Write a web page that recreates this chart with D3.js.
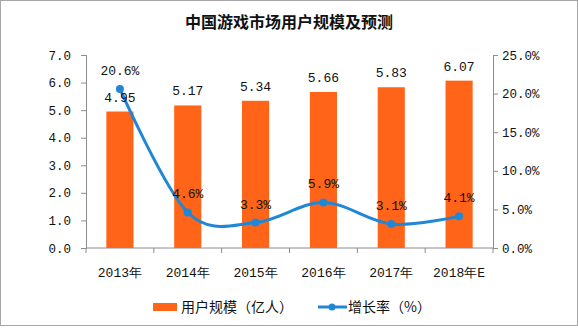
<!DOCTYPE html>
<html><head><meta charset="utf-8">
<script src="https://cdn.jsdelivr.net/npm/d3@7"></script>
<style>
html,body{margin:0;padding:0;background:#fff;}
svg{display:block;}
</style></head>
<body>
<svg id="c" width="578" height="328"></svg>
<script>
const categories = ["2013年","2014年","2015年","2016年","2017年","2018年E"];
const users = [4.95, 5.17, 5.34, 5.66, 5.83, 6.07];
const growth = [20.6, 4.6, 3.3, 5.9, 3.1, 4.1];
const leftTicks = [0,1,2,3,4,5,6,7];
const rightTicks = [0,5,10,15,20,25];
const title = "中国游戏市场用户规模及预测";
const legendLabels = ["用户规模（亿人）","增长率（%）"];

const svg = d3.select("#c");
const W = 578, H = 328;
const m = {left: 86, right: 493, top: 55, bottom: 248};
const numFont = "'Liberation Mono', 'DejaVu Sans Mono', monospace";
const cjkFont = "'Noto Sans CJK SC', sans-serif";
const barColor = "#ff6418";
const lineColor = "#1f87d6";
const axisColor = "#8c8c8c";

svg.append("rect").attr("x",0.5).attr("y",0.5).attr("width",W-1).attr("height",H-3)
  .attr("fill","#fff").attr("stroke","#a6a6a6");

svg.append("text").attr("x",W/2).attr("y",28).attr("text-anchor","middle")
  .attr("font-family",cjkFont).attr("font-weight","bold").attr("font-size",16)
  .attr("fill","#111").text(title);

const xb = d3.scaleBand().domain(categories).range([m.left, m.right]);
const yL = d3.scaleLinear().domain([0,7]).range([m.bottom, m.top]);
const yR = d3.scaleLinear().domain([0,25]).range([m.bottom, m.top]);

// bars
svg.append("g").selectAll("rect").data(users).join("rect")
  .attr("x",(d,i)=>xb(categories[i]) + xb.bandwidth()*0.3)
  .attr("width",xb.bandwidth()*0.4)
  .attr("y",d=>yL(d)).attr("height",d=>m.bottom - yL(d))
  .attr("fill",barColor);

// axes
function styleAxis(g){
  g.selectAll("path,line").attr("stroke",axisColor);
  g.selectAll("text").attr("font-family",numFont).attr("font-size",12.5).attr("fill","#111");
}
svg.append("g").attr("transform",`translate(${m.left},0)`)
  .call(d3.axisLeft(yL).tickValues(leftTicks).tickFormat(d3.format(".1f")).tickSizeOuter(0).tickSize(5).tickPadding(10))
  .call(styleAxis);
svg.append("g").attr("transform",`translate(${m.right},0)`)
  .call(d3.axisRight(yR).tickValues(rightTicks).tickFormat(d=>d3.format(".1f")(d)+"%").tickSizeOuter(0).tickSize(5).tickPadding(4))
  .call(styleAxis);
const xAxis = svg.append("g").attr("transform",`translate(0,${m.bottom})`);
xAxis.append("line").attr("x1",m.left).attr("x2",m.right).attr("stroke",axisColor);
xAxis.selectAll("line.t").data(d3.range(categories.length+1)).join("line").attr("class","t")
  .attr("x1",i=>m.left + i*xb.step()).attr("x2",i=>m.left + i*xb.step())
  .attr("y1",0).attr("y2",5).attr("stroke",axisColor);
xAxis.selectAll("text").data(categories).join("text")
  .attr("x",d=>xb(d)+xb.bandwidth()/2).attr("y",29).attr("text-anchor","middle")
  .attr("font-family",numFont).attr("font-size",13).attr("fill","#111").text(d=>d);

// line
const cx = i => xb(categories[i]) + xb.bandwidth()/2;
const line = d3.line().x((d,i)=>cx(i)).y(d=>yR(d)).curve(d3.curveCatmullRom.alpha(0));
svg.append("path").datum(growth).attr("d",line).attr("fill","none")
  .attr("stroke",lineColor).attr("stroke-width",3);
svg.append("g").selectAll("circle").data(growth).join("circle")
  .attr("cx",(d,i)=>cx(i)).attr("cy",d=>yR(d)).attr("r",4).attr("fill",lineColor);

// labels
svg.append("g").selectAll("text").data(users).join("text")
  .attr("x",(d,i)=>cx(i)).attr("y",d=>yL(d)-10).attr("text-anchor","middle")
  .attr("font-family",numFont).attr("font-size",13).attr("fill","#111")
  .text(d=>d3.format(".2f")(d));
svg.append("g").selectAll("text").data(growth).join("text")
  .attr("x",(d,i)=>cx(i)).attr("y",d=>yR(d)-14).attr("text-anchor","middle")
  .attr("font-family",numFont).attr("font-size",13).attr("fill","#111")
  .text(d=>d3.format(".1f")(d)+"%");

// legend
const lg = svg.append("g");
lg.append("rect").attr("x",153).attr("y",303).attr("width",24).attr("height",8).attr("fill",barColor);
lg.append("text").attr("x",181).attr("y",312).attr("font-family",cjkFont).attr("font-size",14)
  .attr("fill","#111").text(legendLabels[0]);
lg.append("line").attr("x1",318).attr("x2",347).attr("y1",307).attr("y2",307).attr("stroke",lineColor).attr("stroke-width",3);
lg.append("circle").attr("cx",332).attr("cy",307).attr("r",3.5).attr("fill",lineColor);
lg.append("text").attr("x",348).attr("y",312).attr("font-family",cjkFont).attr("font-size",14)
  .attr("fill","#111").text(legendLabels[1]);
</script>
</body></html>
